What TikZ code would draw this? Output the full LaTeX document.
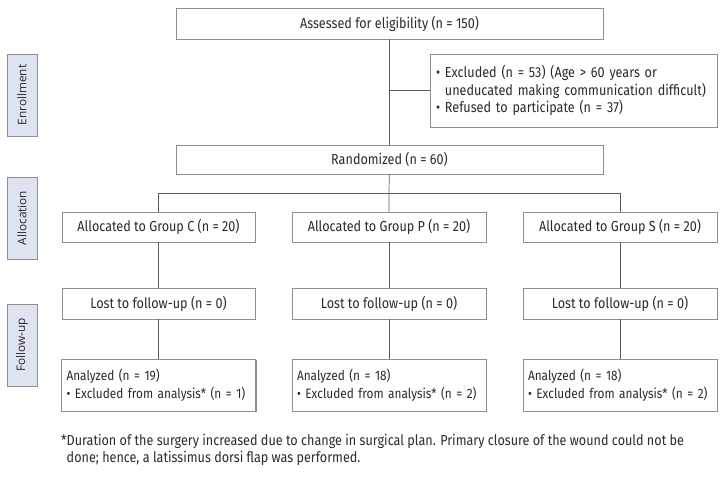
\documentclass[tikz,border=0pt]{standalone}
\usepackage{fontspec}
\setmainfont{Fira Sans}[FakeStretch=0.87]
\newfontfamily\phasefont{Open Sans}
\usetikzlibrary{positioning,calc,shadows}
\definecolor{boxGrey}{HTML}{8E8E8E}
\definecolor{lineGrey}{HTML}{5A5A5A}
\definecolor{phaseBlue}{HTML}{DFE2F0}
\definecolor{textGrey}{HTML}{2B2B2B}
\tikzset{%
  flownode/.style={inner sep=0pt, text=textGrey, font=\fontsize{14.5}{17.6}\selectfont},
  % Flow boxes
  node_box/.style={flownode, rectangle, align=center, draw=boxGrey, fill=white, line width=0.7pt,
    minimum height=30pt,
    drop shadow={shadow xshift=1.1pt, shadow yshift=-1.1pt, fill=boxGrey, opacity=1}},
  % Boxes with a list in them
  node_list/.style={node_box, align=left, inner xsep=6pt},
  % Analysis boxes at the bottom
  node_result/.style={node_list, inner xsep=5pt, minimum height=52pt, text width=184pt,
    font=\fontsize{13.6}{18}\selectfont},
  % Phase labels on the left
  node_phase/.style={rectangle, rotate=90, draw=boxGrey, fill=phaseBlue, line width=0.7pt,
    minimum width=82pt, minimum height=30pt, text=textGrey,
    font=\phasefont\fontsize{11.8}{13}\selectfont,
    drop shadow={shadow xshift=1.1pt, shadow yshift=-1.1pt, fill=boxGrey, opacity=1}},
  % Connectors
  link/.style={draw=lineGrey, line width=0.7pt}
}

\begin{document}
\begin{tikzpicture}[x=1pt, y=-1pt]
  \useasboundingbox (0,0) rectangle (727,476);

  % phases
  \node[node_phase] (enrol) at (22,95) {Enrollment};
  \node[node_phase] (alloc) at (22,218) {Allocation};
  \node[node_phase] (follow) at (22,345) {Follow-up};

  % enrollment
  \node[node_box, minimum width=427pt, minimum height=31pt] (assessed) at (389.5,23.5)
    {Assessed for eligibility (n = 150)};
  \node[node_list, minimum width=287pt, minimum height=73pt, text width=275pt] (excluded) at (573.5,90.5)
    {\textbullet\ Excluded (n = 53) (Age > 60 years or\\
     \hphantom{\textbullet\ }uneducated making communication difficult)\\
     \textbullet\ Refused to participate (n = 37)};
  \node[node_box, minimum width=427pt, minimum height=29pt] (random) at (389.5,159.5)
    {Randomized (n = 60)};

  % allocation
  \node[node_box, minimum width=193pt] (allocC) at (158.5,227) {Allocated to Group C (n = 20)};
  \node[node_box, minimum width=194pt] (allocP) at (389,227) {Allocated to Group P (n = 20)};
  \node[node_box, minimum width=194pt] (allocS) at (620,227) {Allocated to Group S (n = 20)};

  % follow-up
  \node[node_box, minimum width=193pt, minimum height=31pt] (lostC) at (158.5,303.5) {Lost to follow-up (n = 0)};
  \node[node_box, minimum width=194pt, minimum height=31pt] (lostP) at (389,303.5) {Lost to follow-up (n = 0)};
  \node[node_box, minimum width=194pt, minimum height=31pt] (lostS) at (620,303.5) {Lost to follow-up (n = 0)};

  \node[node_result] (anaC) at (158.5,385)
    {Analyzed (n = 19)\\ \textbullet\ Excluded from analysis* (n = 1)};
  \node[node_result] (anaP) at (389,385)
    {Analyzed (n = 18)\\ \textbullet\ Excluded from analysis* (n = 2)};
  \node[node_result] (anaS) at (620,385)
    {Analyzed (n = 18)\\ \textbullet\ Excluded from analysis* (n = 2)};

  % footnote
  \node[flownode, align=left, anchor=north west, font=\fontsize{14.5}{16.5}\selectfont] (note) at (61,434)
    {*Duration of the surgery increased due to change in surgical plan. Primary closure of the wound could not be\\
     \hphantom{*}done; hence, a latissimus dorsi flap was performed.};

  % connectors
  \coordinate (split) at (389,193);
  \draw[link] (assessed) -- (random);
  \draw[link] (assessed.south |- excluded.west) -- (excluded.west);
  \draw[link] (random) -- (split) -- (allocP);
  \draw[link] (allocC.north) -- (allocC.north |- split) -- (allocS.north |- split) -- (allocS.north);
  \draw[link] (allocC) -- (lostC);
  \draw[link] (allocP) -- (lostP);
  \draw[link] (allocS) -- (lostS);
  \draw[link] (lostC) -- (anaC);
  \draw[link] (lostP) -- (anaP);
  \draw[link] (lostS) -- (anaS);
\end{tikzpicture}
\end{document}
